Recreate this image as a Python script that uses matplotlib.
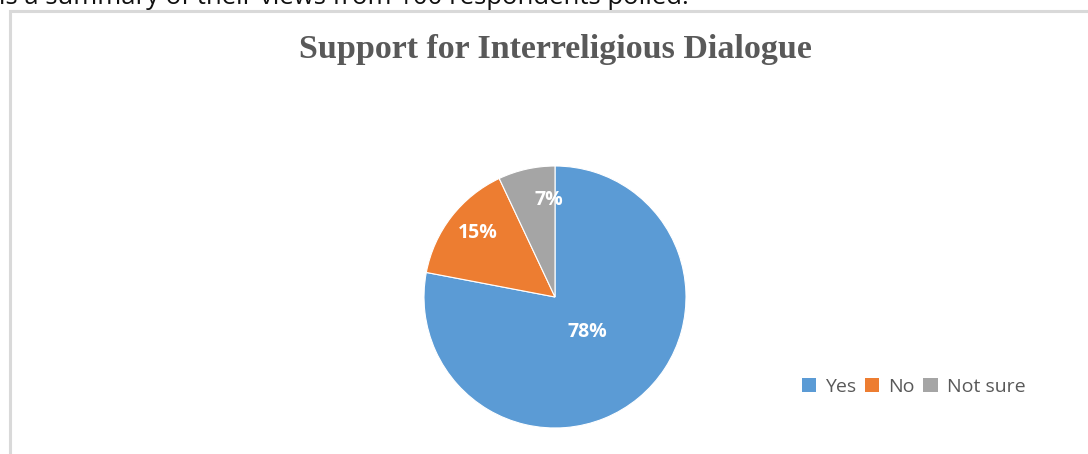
import matplotlib
matplotlib.use("Agg")
import matplotlib.pyplot as plt
from matplotlib.patches import Rectangle, Patch

categories = ["Yes", "No", "Not sure"]
values = [78, 15, 7]
colors = ["#5B9BD5", "#ED7D31", "#A5A5A5"]
title = "Support for Interreligious Dialogue"
top_text = "is a summary of their views from 100 respondents polled."

W, H = 1088, 454
fig = plt.figure(figsize=(W / 100, H / 100), dpi=100)
fig.patch.set_facecolor("white")

# clipped text line above the chart
fig.text(-1 / W, 1 - 3.5 / H, top_text, fontsize=18.5, family="Open Sans",
         color="#111111", ha="left", va="baseline")

# chart frame
frame = Rectangle((10 / W, -20 / H), (W + 20) / W, (H - 11 + 20) / H,
                  transform=fig.transFigure, fill=False,
                  edgecolor="#D9D9D9", linewidth=2.2)
fig.patches.append(frame)

# title
fig.text(555 / W, 1 - 58 / H, title, fontsize=24.5, family="Liberation Serif",
         fontweight="bold", color="#595959", ha="center", va="baseline")

# pie axes
cx, cy, r = 555, 297, 131
ax = fig.add_axes([(cx - r) / W, (H - cy - r) / H, 2 * r / W, 2 * r / H])
wedges, texts, autotexts = ax.pie(
    values, colors=colors, startangle=90, counterclock=False,
    autopct="%1.0f%%", pctdistance=0.75,
    wedgeprops=dict(edgecolor="white", linewidth=0.8),
    textprops=dict(color="white", fontsize=14, fontweight="bold",
                   family="Open Sans"))
ax.set_xlim(-1, 1)
ax.set_ylim(-1, 1)
ax.set_aspect("equal")
ax.axis("off")

# label placement (Excel-style)
label_pos = [(0.25, -0.265), (-0.59, 0.49), (-0.05, 0.74)]
for t, p in zip(autotexts, label_pos):
    t.set_position(p)
    t.set_ha("center")
    t.set_va("center")

handles = [Patch(facecolor=c, edgecolor="none") for c in colors]
fig.legend(handles, categories, loc="center left",
           bbox_to_anchor=(790 / W, 1 - 387 / H), ncol=3, frameon=False,
           prop=dict(family="Open Sans", size=14),
           labelcolor="#595959", handlelength=0.75, handleheight=0.75,
           handletextpad=0.45, columnspacing=0.45, borderpad=0.1)

fig.savefig("out.png", dpi=100, facecolor="white")
